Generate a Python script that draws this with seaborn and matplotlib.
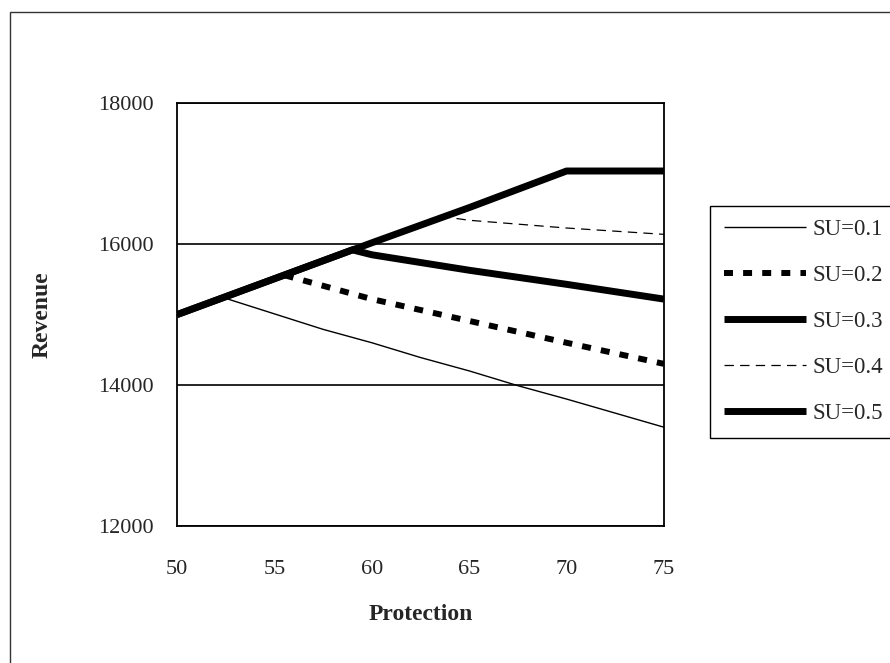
import matplotlib
matplotlib.use("Agg")
import matplotlib.pyplot as plt
from matplotlib.patches import Rectangle
import seaborn as sns
import pandas as pd

# values
labels = ["SU=0.1", "SU=0.2", "SU=0.3", "SU=0.4", "SU=0.5"]

su01_x = [50, 52.5, 55, 57.5, 60, 62.5, 65, 67.5, 70, 72.5, 75]
su01_y = [15000, 15230, 15010, 14790, 14600, 14390, 14200, 13990, 13800, 13600, 13400]

su02_x = [50, 55, 55.5, 60, 65, 70, 75]
su02_y = [15000, 15510, 15560, 15220, 14910, 14600, 14300]

su03_x = [50, 55, 59, 60, 65, 70, 75]
su03_y = [15000, 15510, 15920, 15850, 15630, 15430, 15220]

su04_x = [50, 55, 60, 63.7, 65, 70, 75]
su04_y = [15000, 15510, 16020, 16390, 16340, 16230, 16140]

su05_x = [50, 55, 60, 65, 70, 75]
su05_y = [15000, 15510, 16020, 16520, 17040, 17040]

xs = [su01_x, su02_x, su03_x, su04_x, su05_x]
ys = [su01_y, su02_y, su03_y, su04_y, su05_y]

x_ticks = [50, 55, 60, 65, 70, 75]
y_ticks = [12000, 14000, 16000, 18000]

styles = {
    "SU=0.1": dict(lw=1.0, ls="-"),
    "SU=0.2": dict(lw=4.3, ls=(0, (1.5, 1.7))),
    "SU=0.3": dict(lw=5.0, ls="-"),
    "SU=0.4": dict(lw=0.9, ls=(0, (7.5, 5))),
    "SU=0.5": dict(lw=5.0, ls="-"),
}

sns.set_style("white")
plt.rcParams["font.family"] = ["Liberation Serif", "DejaVu Serif"]

fig = plt.figure(figsize=(8.9, 6.63), dpi=100)
ax = fig.add_axes([0.199, 0.207, 0.547, 0.637])

for lab, x, y in zip(labels, xs, ys):
    df = pd.DataFrame({"Protection": x, "Revenue": y})
    st = styles[lab]
    sns.lineplot(data=df, x="Protection", y="Revenue", ax=ax, color="black",
                 linewidth=st["lw"], linestyle=st["ls"], label=lab,
                 sort=False, estimator=None, solid_capstyle="butt",
                 dash_capstyle="butt")

ax.set_xlim(50, 75)
ax.set_ylim(12000, 18000)
ax.set_xticks(x_ticks)
ax.set_yticks(y_ticks)
ax.yaxis.grid(True, color="black", linewidth=1.2)
ax.set_axisbelow(True)
for sp in ax.spines.values():
    sp.set_color("black")
    sp.set_linewidth(1.3)

ax.tick_params(axis="both", direction="out", length=6.5, width=1, color="black",
               labelsize=16)
ax.tick_params(axis="x", pad=18)
ax.tick_params(axis="y", pad=10)

ax.set_xlabel("Protection", fontsize=17, fontweight="bold")
ax.set_ylabel("Revenue", fontsize=17, fontweight="bold")
ax.yaxis.set_label_coords(-0.255, 0.5)
ax.xaxis.set_label_coords(0.5, -0.186)

leg = ax.legend(loc="upper left", bbox_to_anchor=(0.7978, 0.69),
                bbox_transform=fig.transFigure, borderaxespad=0,
                fontsize=16.5, frameon=True, fancybox=False, framealpha=1,
                edgecolor="black", handlelength=3.6, handletextpad=0.25,
                labelspacing=1.09, borderpad=0.6)
leg.get_frame().set_linewidth(1.0)

# thin outer chart border (cut off at right and bottom like the scan)
fig.patches.append(Rectangle((10 / 890, -0.05), 1.2, 1 - 12 / 663 + 0.05,
                             transform=fig.transFigure, fill=False,
                             edgecolor="#333333", linewidth=1.0))

fig.savefig("out.png", dpi=100)
